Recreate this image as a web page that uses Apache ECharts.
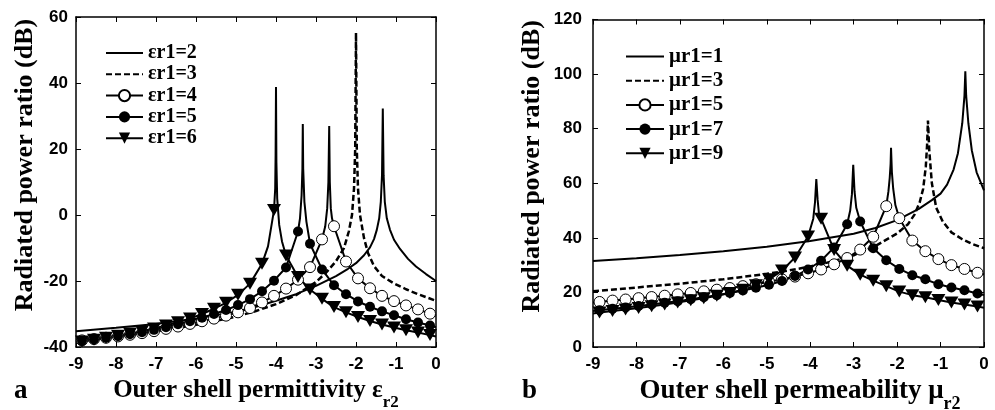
<!DOCTYPE html>
<html>
<head>
<meta charset="utf-8">
<script src="https://cdn.jsdelivr.net/npm/echarts@6/dist/echarts.min.js"></script>
<style>
  html, body { margin: 0; padding: 0; background: #fff; }
  #chart { width: 995px; height: 410px; }
</style>
</head>
<body>
<div id="chart"></div>
<script>
// marker x positions (same grid for every marked curve)
let markX = [-8.85, -8.55, -8.25, -7.95, -7.65, -7.35, -7.05, -6.75, -6.45, -6.15,
             -5.85, -5.55, -5.25, -4.95, -4.65, -4.35, -4.05, -3.75, -3.45, -3.15,
             -2.85, -2.55, -2.25, -1.95, -1.65, -1.35, -1.05, -0.75, -0.45, -0.15];

/**
 * Panel a : permittivity
 */
let e2X = [-9, -8, -7, -6, -5, -4.5, -4, -3.5, -3, -2.5, -2.2, -2, -1.8, -1.65, -1.55, -1.48, -1.42, -1.38, -1.35, -1.33, -1.31, -1.28, -1.23, -1.15, -1.05, -0.9, -0.7, -0.5, -0.25, 0];
let e2Y = [-35.2, -34.2, -33, -31.4, -29.3, -27.8, -26, -24, -21.5, -18.5, -16.3, -14.6, -12.2, -9.8, -7.3, -4.5, -1, 4, 12, 32.3, 12, 4, -1, -4.5, -7.5, -10.3, -13.3, -15.6, -17.9, -20];

let e3X = [-9, -8, -7, -6, -5, -4.5, -4, -3.5, -3, -2.75, -2.5, -2.3, -2.18, -2.1, -2.05, -2.02, -2, -1.98, -1.95, -1.9, -1.8, -1.7, -1.55, -1.35, -1.07, -0.75, -0.45, 0];
let e3Y = [-37.8, -36.6, -35.2, -33.3, -30.8, -29.1, -27, -24.3, -20.3, -17.5, -14, -10, -5, 0, 8, 20, 55.2, 20, 8, 0, -7, -11.5, -15.5, -18.5, -20.6, -22.5, -24, -26];

let e4Mark = [-38, -37.6, -37.2, -36.8, -36.3, -35.8, -35.2, -34.5, -33.8, -33,
              -32.2, -31.4, -30.5, -29.5, -28.2, -26.5, -24.5, -22.3, -19.6, -15.8,
              -7.4, -3.4, -14.1, -19.2, -22.2, -24.5, -26.1, -27.4, -28.6, -29.9];
let e4ExtraX = [-9, -2.77, -2.72, -2.69, -2.67, -2.655, -2.63, -2.6, 0];
let e4ExtraY = [-38.2, -3.5, 2, 10, 27, 10, 2, -1, -30.5];

let e5Mark = [-38.1, -37.7, -37.2, -36.7, -36.1, -35.5, -34.8, -34, -33.1, -32.2,
              -31.1, -30, -28.8, -27.3, -25.5, -23.1, -19.9, -15.9, -5, -8.7,
              -16.5, -21.3, -24, -26.2, -27.8, -29.2, -30.4, -31.6, -32.6, -33.5];
let e5ExtraX = [-9, -3.4, -3.36, -3.34, -3.33, -3.32, -3.29, -3.24, 0];
let e5ExtraY = [-38.3, -1, 6, 14, 27.6, 14, 4, -2, -34];

let e6Mark = [-38.3, -37.8, -37.2, -36.6, -35.9, -35.2, -34.4, -33.5, -32.5, -31.4,
              -30, -28.4, -26.6, -24.2, -20.8, -14.8, 1.5, -12.3, -18.8, -22.6,
              -25.4, -27.9, -29.5, -30.9, -32.1, -33.2, -34.1, -34.9, -35.6, -36.4];
let e6ExtraX = [-9, -4.2, -4.02, -4.01, -4.0, -3.99, -3.97, -3.92, -3.85, 0];
let e6ExtraY = [-38.5, -9.5, 8, 18, 38.8, 16, 5, -3, -8, -36.8];

/**
 * Panel b : permeability
 */
let m1X = [-9, -8, -7, -6, -5, -4, -3, -2.5, -2, -1.5, -1.2, -1, -0.85, -0.7, -0.6, -0.5, -0.45, -0.43, -0.41, -0.36, -0.28, -0.17, 0];
let m1Y = [31.5, 32.5, 33.7, 35.1, 36.7, 38.8, 41.5, 43.6, 46.5, 50.6, 53.8, 56.2, 59.5, 65, 71, 82, 92, 101, 92, 82, 72, 64, 57.4];

let m3X = [-9, -8, -7, -6, -5, -4.5, -4, -3.5, -3, -2.5, -2, -1.75, -1.6, -1.48, -1.4, -1.34, -1.31, -1.29, -1.26, -1.2, -1.1, -0.95, -0.75, -0.5, -0.25, 0];
let m3Y = [20.4, 21.8, 23.2, 24.8, 26.8, 28, 29.5, 31.3, 33.6, 37, 41.6, 45, 48.5, 53, 58, 66, 74, 83, 72, 60, 51, 46, 42, 39.5, 37.6, 36.2];

let m5Mark = [16.5, 17, 17.4, 17.9, 18.3, 18.8, 19.3, 19.8, 20.4, 21,
              21.6, 22.3, 23, 23.9, 24.8, 25.8, 27, 28.4, 30.3, 32.6,
              35.7, 40.4, 51.6, 47.2, 39, 35.1, 32.2, 30, 28.6, 27.2];
let m5ExtraX = [-9, -2.2, -2.17, -2.15, -2.14, -2.12, -2.09, -2.04, 0];
let m5ExtraY = [16.3, 57, 62, 67, 73, 64, 58, 52, 26.6];

let m7Mark = [13.5, 14, 14.5, 15, 15.6, 16.2, 16.8, 17.5, 18.2, 19,
              19.8, 20.7, 21.7, 22.8, 24.2, 26, 28.4, 31.6, 36.5, 45,
              46, 36.2, 31.8, 28.6, 26.3, 24.8, 23, 21.8, 20.8, 19.6];
let m7ExtraX = [-9, -3.08, -3.04, -3.01, -2.98, -2.94, 0];
let m7ExtraY = [13.2, 50, 56, 66.8, 57, 51, 19];

let m9Mark = [12.6, 13.2, 13.7, 14.3, 14.9, 15.6, 16.3, 17.1, 17.9, 18.8,
              19.8, 21, 22.6, 24.8, 28, 32.8, 40.5, 47, 35.5, 29.8,
              26.5, 24.3, 22.3, 20.3, 19, 18.2, 17.2, 16.3, 15.6, 14.8];
let m9ExtraX = [-9, -3.93, -3.89, -3.86, -3.83, -3.8, 0];
let m9ExtraY = [12.3, 47, 53, 61.5, 54, 49, 14.4];

/**
 * Helpers
 */
function pairs(xs, ys) {
    return xs.map(function (x, i) { return [x, ys[i]]; });
}

function markedData(markY, extraX, extraY) {
    let pts = markX.map(function (x, i) { return {value: [x, markY[i]]}; });
    extraX.forEach(function (x, i) {
        pts.push({value: [x, extraY[i]], symbol: 'none'});
    });
    pts.sort(function (a, b) { return a.value[0] - b.value[0]; });
    return pts;
}

const SERIF = '"Liberation Serif", "Times New Roman", serif';
const SANS = '"Liberation Sans", Arial, sans-serif';

function plainLine(name, data, idx, dashed) {
    return {
        name: name, type: 'line', xAxisIndex: idx, yAxisIndex: idx,
        data: data, symbol: 'none', animation: false,
        itemStyle: {color: '#000'},
        lineStyle: {color: '#000', width: dashed ? 2.5 : 2, type: dashed ? [6, 3] : 'solid'},
        z: 2
    };
}

function markLine(name, data, idx, kind) {
    let s = {
        name: name, type: 'line', xAxisIndex: idx, yAxisIndex: idx,
        data: data, animation: false, showAllSymbol: true,
        lineStyle: {color: '#000', width: 2},
        z: 3
    };
    if (kind === 'open') {
        s.symbol = 'circle';
        s.symbolSize = 11;
        s.itemStyle = {color: '#fff', borderColor: '#000', borderWidth: 1};
    } else if (kind === 'filled') {
        s.symbol = 'circle';
        s.symbolSize = 10;
        s.itemStyle = {color: '#000'};
    } else {
        s.symbol = 'triangle';
        s.symbolSize = [14, 12];
        s.symbolRotate = 180;
        s.itemStyle = {color: '#000'};
    }
    return s;
}

function bottomAxis(gi, title, size, subSize, pad) {
    return {
        type: 'value', gridIndex: gi, position: 'bottom', min: -9, max: 0, interval: 1,
        axisLine: {show: true, onZero: false, lineStyle: {color: '#000', width: 1.5}},
        axisTick: {inside: true, length: 5, lineStyle: {color: '#000'}},
        axisLabel: {color: '#000', fontFamily: SANS, fontWeight: 'bold', fontSize: 17, margin: 9},
        splitLine: {show: false},
        name: title, nameLocation: 'middle', nameGap: 31,
        nameTextStyle: {
            color: '#000', padding: pad,
            rich: {
                t: {fontFamily: SERIF, fontWeight: 'bold', fontSize: size, lineHeight: size, padding: [0, 0, 25, 0], color: '#000'},
                s: {fontFamily: SERIF, fontWeight: 'bold', fontSize: subSize, lineHeight: subSize, color: '#000'}
            }
        }
    };
}

function topAxis(gi) {
    return {
        type: 'value', gridIndex: gi, position: 'top', min: -9, max: 0, interval: 1,
        axisLine: {show: true, onZero: false, lineStyle: {color: '#000', width: 1.5}},
        axisTick: {inside: true, length: 5, lineStyle: {color: '#000'}},
        axisLabel: {show: false}, splitLine: {show: false}
    };
}

function leftAxis(gi, min, max, gap, margin) {
    return {
        type: 'value', gridIndex: gi, position: 'left', min: min, max: max, interval: 20,
        axisLine: {show: true, onZero: false, lineStyle: {color: '#000', width: 1.5}},
        axisTick: {inside: true, length: 5, lineStyle: {color: '#000'}},
        axisLabel: {color: '#000', fontFamily: SANS, fontWeight: 'bold', fontSize: 17, margin: margin},
        splitLine: {show: false},
        name: 'Radiated power ratio (dB)', nameLocation: 'middle', nameGap: gap,
        nameTextStyle: {color: '#000', fontFamily: SERIF, fontWeight: 'bold', fontSize: 26, padding: [0, 0, 0, 34]}
    };
}

function rightAxis(gi, min, max) {
    return {
        type: 'value', gridIndex: gi, position: 'right', min: min, max: max, interval: 20,
        axisLine: {show: true, onZero: false, lineStyle: {color: '#000', width: 1.5}},
        axisTick: {inside: true, length: 5, lineStyle: {color: '#000'}},
        axisLabel: {show: false}, splitLine: {show: false}
    };
}

function legendFor(names, left, top, gap, width, size) {
    return {
        orient: 'vertical', left: left, top: top, itemGap: gap,
        itemWidth: width, itemHeight: 14, selectedMode: false,
        textStyle: {color: '#000', fontFamily: SERIF, fontWeight: 'bold', fontSize: size, lineHeight: 20},
        data: names.map(function (n, i) {
            return i < 2 ? {name: n, itemStyle: {opacity: 0}} : n;
        })
    };
}

let chart = echarts.init(document.getElementById('chart'), null, {renderer: 'canvas'});

let option = {
    backgroundColor: '#fff',
    animation: false,
    grid: [
        {left: 76, top: 17, width: 360, height: 330, outerBoundsMode: 'none'},
        {left: 593, top: 19.5, width: 391, height: 327.5, outerBoundsMode: 'none'}
    ],
    xAxis: [
        bottomAxis(0, '{t|Outer shell permittivity ε}{s|r2}', 25, 17, [0, 0, 0, 0]),
        bottomAxis(1, '{t|Outer shell permeability μ}{s|r2}', 27, 18, [0, 0, 0, 23]),
        topAxis(0),
        topAxis(1)
    ],
    yAxis: [
        leftAxis(0, -40, 60, 38, 8),
        leftAxis(1, 0, 120, 48, 11),
        rightAxis(0, -40, 60),
        rightAxis(1, 0, 120)
    ],
    legend: [
        legendFor(['εr1=2', 'εr1=3', 'εr1=4', 'εr1=5', 'εr1=6'], 100, 38, 1.3, 37, 20),
        legendFor(['μr1=1', 'μr1=3', 'μr1=5', 'μr1=7', 'μr1=9'], 620, 41, 3.2, 38, 21)
    ],
    graphic: [
        {type: 'text', left: 14, top: 378, style: {text: 'a', font: 'bold 27px ' + SERIF, fill: '#000'}},
        {type: 'text', left: 522, top: 378, style: {text: 'b', font: 'bold 27px ' + SERIF, fill: '#000'}}
    ],
    series: [
        plainLine('εr1=2', pairs(e2X, e2Y), 0, false),
        plainLine('εr1=3', pairs(e3X, e3Y), 0, true),
        markLine('εr1=4', markedData(e4Mark, e4ExtraX, e4ExtraY), 0, 'open'),
        markLine('εr1=5', markedData(e5Mark, e5ExtraX, e5ExtraY), 0, 'filled'),
        markLine('εr1=6', markedData(e6Mark, e6ExtraX, e6ExtraY), 0, 'tri'),
        plainLine('μr1=1', pairs(m1X, m1Y), 1, false),
        plainLine('μr1=3', pairs(m3X, m3Y), 1, true),
        markLine('μr1=5', markedData(m5Mark, m5ExtraX, m5ExtraY), 1, 'open'),
        markLine('μr1=7', markedData(m7Mark, m7ExtraX, m7ExtraY), 1, 'filled'),
        markLine('μr1=9', markedData(m9Mark, m9ExtraX, m9ExtraY), 1, 'tri')
    ]
};

option && chart.setOption(option);
</script>
</body>
</html>
